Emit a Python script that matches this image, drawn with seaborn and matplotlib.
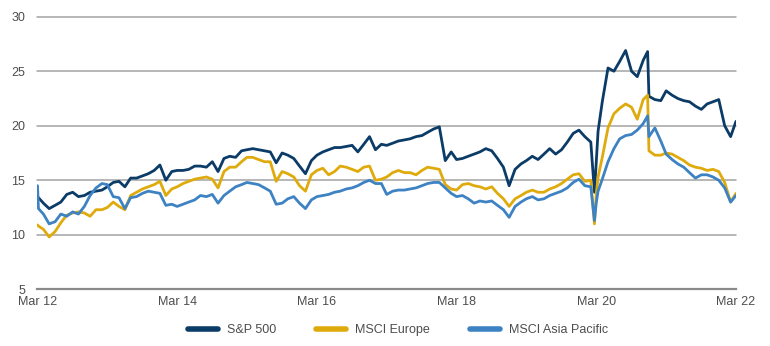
import matplotlib
matplotlib.use("Agg")
import matplotlib.pyplot as plt
import pandas as pd
import seaborn as sns

# Month-start observations, March 2012 to March 2022
month_starts = pd.date_range("2012-03-01", "2022-03-01", freq="MS")
# Extra observations around sharp moves
event_dates = ["2012-03-06", "2020-02-20", "2020-03-10", "2020-11-24"]

series_names = ["S&P 500", "MSCI Europe", "MSCI Asia Pacific"]

sp500 = [
    13.5, 12.9, 12.4, 12.7, 13.0, 13.7, 13.9, 13.5, 13.6, 13.9, 14.0, 14.1,
    14.4, 14.8, 14.9, 14.4, 15.2, 15.2, 15.4, 15.6, 15.9, 16.4, 15.0, 15.8,
    15.9, 15.9, 16.0, 16.3, 16.3, 16.2, 16.7, 15.8, 17.0, 17.2, 17.1, 17.7,
    17.8, 17.9, 17.8, 17.7, 17.6, 16.6, 17.5, 17.3, 17.0, 16.3, 15.6, 16.8,
    17.3, 17.6, 17.8, 18.0, 18.0, 18.1, 18.2, 17.6, 18.3, 19.0, 17.8, 18.3,
    18.2, 18.4, 18.6, 18.7, 18.8, 19.0, 19.1, 19.4, 19.7, 19.9, 16.8, 17.6,
    16.9, 17.0, 17.2, 17.4, 17.6, 17.9, 17.7, 17.0, 16.2, 14.5, 16.0, 16.5,
    16.8, 17.2, 16.9, 17.4, 17.9, 17.4, 17.8, 18.5, 19.3, 19.6, 19.0, 18.5,
    16.8, 22.2, 25.3, 25.0, 25.9, 26.9, 25.0, 24.5, 26.0, 22.7, 22.4, 22.3,
    23.2, 22.8, 22.5, 22.3, 22.2, 21.8, 21.5, 22.0, 22.2, 22.4, 20.0, 19.0,
    20.4,
]
sp500_events = [13.4, 13.9, 19.5, 26.8]

msci_europe = [
    10.9, 10.5, 9.8, 10.3, 11.1, 11.8, 12.0, 12.1, 12.0, 11.7, 12.3, 12.3,
    12.5, 13.0, 12.6, 12.3, 13.6, 13.9, 14.2, 14.4, 14.6, 14.9, 13.6, 14.2,
    14.4, 14.7, 14.9, 15.1, 15.2, 15.3, 15.1, 14.3, 15.8, 16.2, 16.2, 16.7,
    17.1, 17.1, 16.9, 16.7, 16.7, 14.9, 15.8, 15.6, 15.3, 14.5, 14.0, 15.5,
    15.9, 16.1, 15.5, 15.8, 16.3, 16.2, 16.0, 15.8, 16.2, 16.3, 15.0, 15.1,
    15.3, 15.7, 15.9, 15.7, 15.7, 15.5, 15.9, 16.2, 16.1, 16.0, 14.6, 14.2,
    14.1, 14.6, 14.7, 14.5, 14.4, 14.2, 14.4, 13.8, 13.3, 12.6, 13.3, 13.6,
    13.9, 14.1, 13.9, 13.9, 14.2, 14.4, 14.7, 15.1, 15.5, 15.6, 14.9, 15.0,
    13.8, 17.1, 19.8, 21.1, 21.6, 22.0, 21.7, 20.6, 22.4, 17.7, 17.3, 17.3,
    17.5, 17.4, 17.1, 16.8, 16.4, 16.2, 16.1, 15.9, 16.0, 15.8, 14.8, 13.0,
    13.8,
]
msci_europe_events = [10.8, 11.0, 15.3, 22.8]

msci_asia_pacific = [
    14.5, 11.9, 11.0, 11.2, 11.9, 11.7, 12.1, 11.9, 12.6, 13.6, 14.3, 14.7,
    14.6, 13.5, 13.4, 12.4, 13.4, 13.5, 13.8, 14.0, 13.9, 13.8, 12.7, 12.8,
    12.6, 12.8, 13.0, 13.2, 13.6, 13.5, 13.7, 12.9, 13.6, 14.0, 14.4, 14.6,
    14.8, 14.7, 14.6, 14.3, 14.0, 12.8, 12.9, 13.3, 13.5, 12.9, 12.4, 13.2,
    13.5, 13.6, 13.7, 13.9, 14.0, 14.2, 14.3, 14.5, 14.8, 15.0, 14.7, 14.7,
    13.7, 14.0, 14.1, 14.1, 14.2, 14.3, 14.5, 14.7, 14.8, 14.8, 14.3, 13.8,
    13.5, 13.6, 13.3, 12.9, 13.1, 13.0, 13.1, 12.7, 12.3, 11.6, 12.6, 13.0,
    13.3, 13.5, 13.2, 13.3, 13.6, 13.8, 14.0, 14.3, 14.8, 15.1, 14.5, 14.4,
    13.0, 15.1, 16.7, 17.9, 18.8, 19.1, 19.2, 19.6, 20.2, 19.0, 19.8, 18.6,
    17.4, 16.9, 16.5, 16.2, 15.7, 15.2, 15.5, 15.5, 15.3, 15.0, 14.3, 13.0,
    13.6,
]
msci_asia_pacific_events = [12.4, 11.3, 14.0, 20.9]

colors = ["#0b3b67", "#dfab0c", "#3d82c3"]
tick_years = [2012, 2014, 2016, 2018, 2020, 2022]
tick_labels = ["Mar 12", "Mar 14", "Mar 16", "Mar 18", "Mar 20", "Mar 22"]
y_ticks = [5, 10, 15, 20, 25, 30]

# Long-form table for seaborn
all_dates = month_starts.append(pd.to_datetime(event_dates))
frames = []
for name, monthly, extra in [
    ("S&P 500", sp500, sp500_events),
    ("MSCI Europe", msci_europe, msci_europe_events),
    ("MSCI Asia Pacific", msci_asia_pacific, msci_asia_pacific_events),
]:
    frames.append(pd.DataFrame({"date": all_dates, "value": monthly + extra, "series": name}))
df = pd.concat(frames).sort_values(["series", "date"]).reset_index(drop=True)

sns.set_style("white")
plt.rcParams["font.family"] = ["Liberation Sans", "DejaVu Sans"]

fig = plt.figure(figsize=(7.7, 3.46), dpi=100)
ax = fig.add_axes([0.0487, 0.1639, 0.9071, 0.7878])

sns.lineplot(
    data=df, x="date", y="value", hue="series", hue_order=series_names,
    palette=colors, linewidth=2.0, estimator=None, sort=True, ax=ax,
)

ax.set_xlim(pd.Timestamp("2012-03-01"), pd.Timestamp("2022-03-01"))
ax.set_ylim(5, 30)
ax.set_xticks([pd.Timestamp(f"{y}-03-01") for y in tick_years])
ax.set_xticklabels(tick_labels)
ax.set_yticks(y_ticks)
ax.set_yticklabels([str(v) for v in y_ticks])
ax.set_xlabel("")
ax.set_ylabel("")

ax.set_axisbelow(True)
ax.yaxis.grid(True, color="#a3a3a3", linewidth=1.1)
for gl in ax.get_ygridlines():
    gl.set_clip_on(False)
ax.xaxis.grid(False)

for side in ["left", "right", "top"]:
    ax.spines[side].set_visible(False)
ax.spines["bottom"].set_color("#8a8a8a")
ax.spines["bottom"].set_linewidth(1.6)

ax.tick_params(axis="y", length=0, pad=9, labelsize=9, labelcolor="#4d4d4d")
ax.tick_params(axis="x", direction="out", length=4, width=1.4, color="#8a8a8a",
               pad=1, labelsize=9, labelcolor="#4d4d4d")

handles, labels = ax.get_legend_handles_labels()
ax.get_legend().remove()
leg = fig.legend(
    handles, labels, loc="center", bbox_to_anchor=(0.517, 0.046), ncol=3,
    frameon=False, fontsize=9, handlelength=2.4, handletextpad=0.7,
    columnspacing=3.2,
)
for line in leg.get_lines():
    line.set_linewidth(4)
    line.set_solid_capstyle("round")
for t in leg.get_texts():
    t.set_color("#4d4d4d")

fig.savefig("out.png", dpi=100)
